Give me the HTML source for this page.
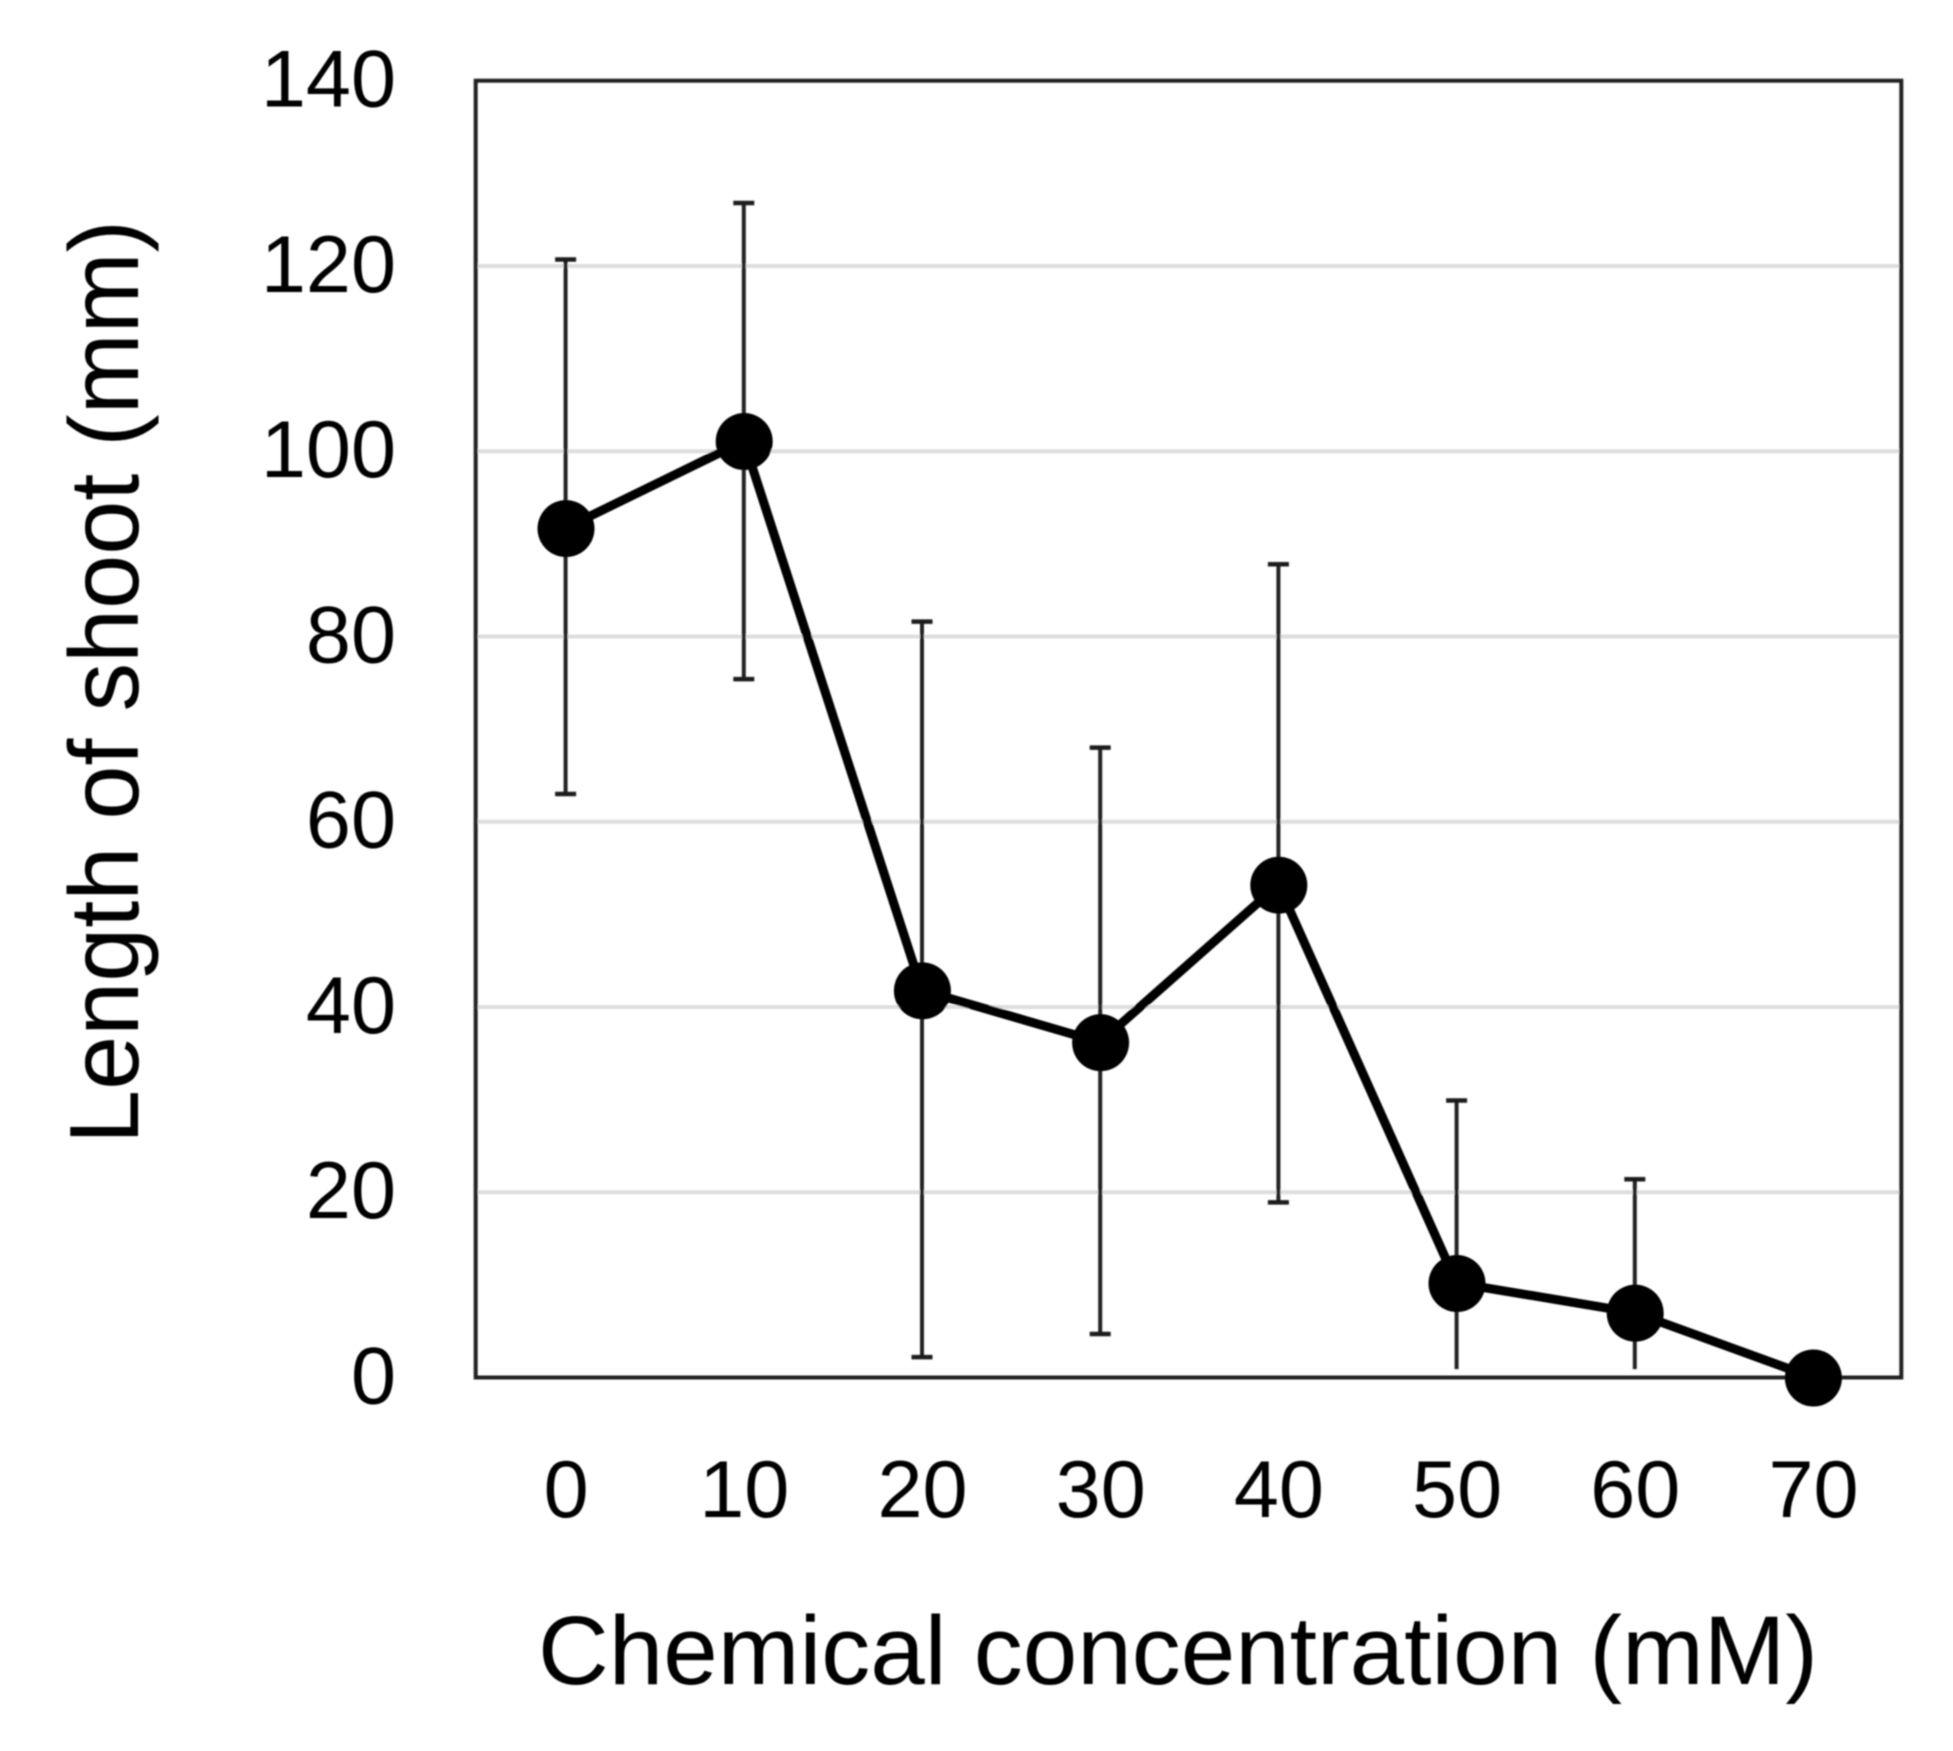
<!DOCTYPE html>
<html lang="en">
<head>
<meta charset="utf-8">
<title>Length of shoot vs chemical concentration</title>
<style>
  html, body { margin: 0; padding: 0; background: #fff; }
  svg { display: block; }
  text { font-family: "Liberation Sans", sans-serif; fill: #000000; }
</style>
</head>
<body>
<svg id="chart" xmlns="http://www.w3.org/2000/svg" width="1953" height="1751" viewBox="0 0 1953 1751">
  <defs>
    <filter id="soft" filterUnits="userSpaceOnUse" x="0" y="0" width="1953" height="1751">
      <feGaussianBlur stdDeviation="0.7"/>
    </filter>
  </defs>
  <rect x="0" y="0" width="1953" height="1751" fill="#ffffff"/>
  <g id="root" filter="url(#soft)"></g>
</svg>
<script>
const categories = [0, 10, 20, 30, 40, 50, 60, 70];
const means = [91.7, 101.1, 41.8, 36.2, 53.2, 10.2, 7.0, 0];
const upperErrors = [120.7, 126.8, 81.6, 68.0, 87.8, 29.9, 21.4, null];
const lowerErrors = [63.0, 75.4, 2.2, 4.7, 18.9, 0.9, 0.9, null];
const lowerCapShown = [true, true, true, true, true, false, false, false];
const yTickLabels = [0, 20, 40, 60, 80, 100, 120, 140];

const plotLeft = 475.7, plotRight = 1901.3, plotTop = 80.7, plotBottom = 1377.5;
const yMax = 140;
const SVG_NS = 'http://www.w3.org/2000/svg';
const root = document.getElementById('root');

function xScale(i) {
  return plotLeft + 0.8 + (plotRight - plotLeft) / categories.length * (i + 0.5);
}
function yScale(v) {
  return plotBottom - (plotBottom - plotTop) * v / yMax;
}
function make(tag, attrs) {
  const el = document.createElementNS(SVG_NS, tag);
  for (const k in attrs) el.setAttribute(k, attrs[k]);
  root.appendChild(el);
  return el;
}

// Gridlines
yTickLabels.forEach(function (t) {
  if (t === 0 || t === yMax) return;
  const grid = make('line', { x1: plotLeft, x2: plotRight, y1: yScale(t), y2: yScale(t), stroke: '#dedede', 'stroke-width': 4 });
  
  
});

// Plot frame
const frame = make('rect', { x: plotLeft, y: plotTop, width: plotRight - plotLeft, height: plotBottom - plotTop, fill: 'none', stroke: '#222222', 'stroke-width': 4 });



// Y tick labels
yTickLabels.forEach(function (t) {
  const label = make('text', { x: 396, y: yScale(t) + 26, 'text-anchor': 'end', 'font-size': 81 });
  label.textContent = String(t);
  
  
});

// X tick labels
categories.forEach(function (c, i) {
  const label = make('text', { x: xScale(i) + 0.5, y: 1517, 'text-anchor': 'middle', 'font-size': 81 });
  label.textContent = String(c);
  
  
});

// Error bars
categories.forEach(function (c, i) {
  if (upperErrors[i] === null) return;
  const x = xScale(i);
  const yTop = yScale(upperErrors[i]);
  const yBot = yScale(lowerErrors[i]);
  const stem = make('line', { x1: x, x2: x, y1: yTop, y2: yBot, stroke: '#222222', 'stroke-width': 4 });
  
  
  const capTop = make('line', { x1: x - 10.5, x2: x + 10.5, y1: yTop, y2: yTop, stroke: '#1a1a1a', 'stroke-width': 4.5 });
  
  
  if (lowerCapShown[i]) {
    const capBot = make('line', { x1: x - 10.5, x2: x + 10.5, y1: yBot, y2: yBot, stroke: '#1a1a1a', 'stroke-width': 4.5 });
    
    
  }
});

// Series line
const linePoints = means.map(function (m, i) { return xScale(i) + ',' + yScale(m); }).join(' ');
const seriesLine = make('polyline', { points: linePoints, fill: 'none', stroke: '#000000', 'stroke-width': 9, 'stroke-linejoin': 'round' });



// Markers
means.forEach(function (m, i) {
  const dot = make('circle', { cx: xScale(i) + 0.4, cy: yScale(m) + 0.5, r: 28.5, fill: '#000000' });
  
  
});

// Axis titles
const xTitle = make('text', { x: 538, y: 1684, 'font-size': 97, textLength: 1280, lengthAdjust: 'spacingAndGlyphs' });
xTitle.textContent = 'Chemical concentration (mM)';



const yTitle = make('text', { x: 0, y: 0, 'font-size': 98, textLength: 924, lengthAdjust: 'spacingAndGlyphs', transform: 'translate(138 1144) rotate(-90)' });
yTitle.textContent = 'Length of shoot (mm)';


</script>
</body>
</html>
